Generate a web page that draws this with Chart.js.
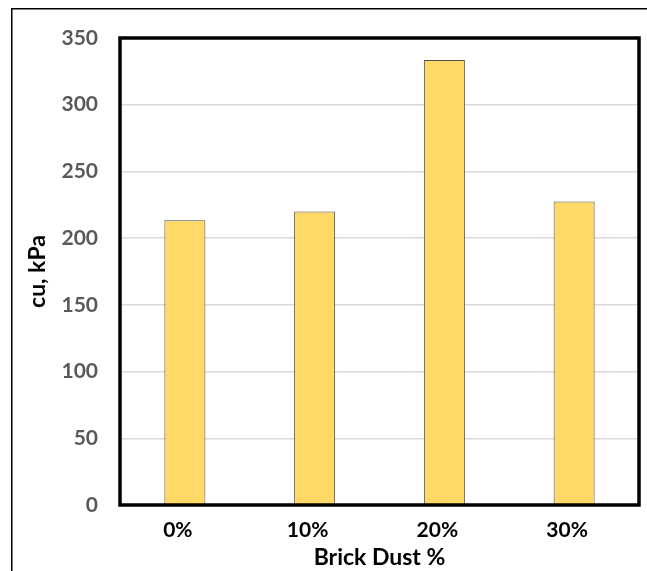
<!DOCTYPE html>
<html><head><meta charset="utf-8">
<script src="https://cdn.jsdelivr.net/npm/chart.js@4/dist/chart.umd.min.js"></script>
<style>html,body{margin:0;padding:0;background:#fff;}#wrap{width:647px;height:571px;position:relative;}</style>
</head><body><div id="wrap"><canvas id="c" width="647" height="571"></canvas></div>
<script>
const categories = ['0%', '10%', '20%', '30%'];
const cuValues = [213.5, 220, 333.5, 227.5];
const yTicks = [0, 50, 100, 150, 200, 250, 300, 350];
const xTitle = 'Brick Dust %';
const yTitle = 'cu, kPa';

const FONT = 'Lato, "Open Sans", sans-serif';

const frame = {
  id: 'frame',
  beforeDraw(chart) {
    const ctx = chart.ctx;
    ctx.save();
    ctx.fillStyle = '#fff';
    ctx.fillRect(0, 0, chart.width, chart.height);
    ctx.strokeStyle = '#000';
    ctx.lineWidth = 1.5;
    ctx.beginPath();
    ctx.moveTo(11.75, chart.height + 2);
    ctx.lineTo(11.75, 8.75);
    ctx.lineTo(chart.width + 2, 8.75);
    ctx.stroke();
    ctx.restore();
  },
  afterDatasetsDraw(chart) {
    const a = chart.chartArea, ctx = chart.ctx;
    ctx.save();
    ctx.strokeStyle = '#000';
    ctx.lineWidth = 3.5;
    ctx.strokeRect(a.left, a.top, a.right - a.left, a.bottom - a.top);
    ctx.restore();
  }
};

new Chart(document.getElementById('c'), {
  type: 'bar',
  data: {
    labels: categories,
    datasets: [{
      data: cuValues,
      backgroundColor: '#FFD966',
      borderColor: '#505050',
      borderWidth: 1,
      barPercentage: 0.316,
      categoryPercentage: 1
    }]
  },
  options: {
    responsive: false,
    animation: false,
    devicePixelRatio: 1,
    layout: { padding: { left: 12, top: 38, right: 8, bottom: 0 } },
    plugins: { legend: { display: false }, tooltip: { enabled: false } },
    scales: {
      x: {
        grid: { display: false, drawTicks: false },
        border: { display: false },
        ticks: { color: '#000', font: { family: FONT, size: 21, weight: 'bold' }, padding: 13, labelOffset: -7 },
        title: { display: true, text: xTitle, color: '#000', font: { family: FONT, size: 23, weight: 'bold' }, padding: { top: 2, bottom: 0 } },
        afterFit(s) { s.height = 66; }
      },
      y: {
        min: 0, max: 350,
        afterBuildTicks(s) { s.ticks = yTicks.map(v => ({ value: v })); },
        grid: { color: '#d9d9d9', lineWidth: 1.5, drawTicks: false },
        border: { display: false },
        ticks: { color: '#595959', font: { family: FONT, size: 21, weight: 'bold' }, padding: 22 },
        title: { display: true, text: yTitle, color: '#000', font: { family: FONT, size: 23, weight: 'bold' }, padding: { top: 12, bottom: 0 } },
        afterFit(s) { s.width = 108; }
      }
    }
  },
  plugins: [frame]
});
</script></body></html>
